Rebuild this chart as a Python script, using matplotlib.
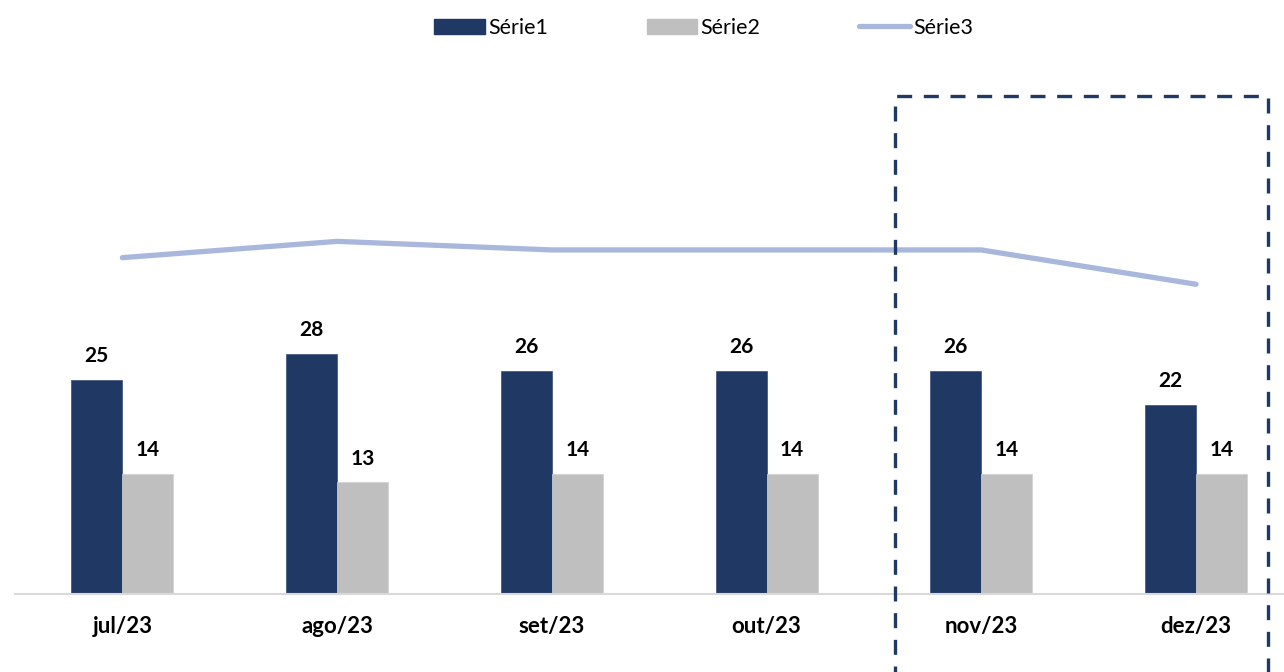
import matplotlib

matplotlib.use("Agg")

import matplotlib.pyplot as plt
import numpy as np
from matplotlib.lines import Line2D
from matplotlib.patches import Patch, Rectangle

months = ["jul/23", "ago/23", "set/23", "out/23", "nov/23", "dez/23"]
serie1 = [25, 28, 26, 26, 26, 22]
serie2 = [14, 13, 14, 14, 14, 14]
serie3 = [39.2, 41.1, 40.1, 40.1, 40.1, 36.1]

NAVY = "#203864"
GRAY = "#BFBFBF"
LINE = "#A9B7DC"

plt.rcParams["font.family"] = ["Lato", "DejaVu Sans"]

W, H = 1284, 672
fig = plt.figure(figsize=(W / 100, H / 100), dpi=100)
ax = fig.add_axes([15 / W, 78 / H, 1 - 15 / W, (594 - 40) / H])

spacing = 214.8
x = np.arange(len(months))
width = 51 / spacing
ax.set_xlim(-0.5, (W - 122) / spacing)
ax.set_ylim(0, (594 - 40) / 8.58)

b1 = ax.bar(x - width / 2, serie1, width, color=NAVY, edgecolor="#3a4f7a", linewidth=0.5)
b2 = ax.bar(x + width / 2, serie2, width, color=GRAY, edgecolor="#d0d0d0", linewidth=0.5)
ax.plot(x, serie3, color=LINE, linewidth=3.8, solid_capstyle="round")

for bars in (b1, b2):
    ax.bar_label(bars, padding=10, fontsize=15, fontweight="bold", color="black")

for side in ("top", "right", "left"):
    ax.spines[side].set_visible(False)
ax.spines["bottom"].set_color("#D9D9D9")
ax.spines["bottom"].set_linewidth(1.5)
ax.set_yticks([])
ax.set_xticks(x, months)
ax.tick_params(axis="x", length=0, pad=16, labelsize=16)
for lbl in ax.get_xticklabels():
    lbl.set_fontweight("bold")

# dashed highlight box around the last two months
box = Rectangle(
    (895 / W, -0.05),
    (1268 - 895) / W,
    (H - 96) / H + 0.05,
    transform=fig.transFigure,
    fill=False,
    edgecolor=NAVY,
    linewidth=2.4,
    linestyle=(0, (4.5, 3.5)),
    clip_on=False,
)
fig.patches.append(box)

handles = [
    Patch(facecolor=NAVY, edgecolor=NAVY),
    Patch(facecolor=GRAY, edgecolor=GRAY),
    Line2D([0], [0], color=LINE, linewidth=3.8, solid_capstyle="round"),
]
fig.legend(
    handles,
    ["Série1", "Série2", "Série3"],
    loc="center",
    bbox_to_anchor=(0.548, 1 - 28 / H),
    ncol=3,
    frameon=False,
    fontsize=15.5,
    handlelength=2.35,
    handleheight=0.75,
    handletextpad=0.15,
    columnspacing=4.6,
)

fig.savefig("out.png", dpi=100)
plt.close(fig)
